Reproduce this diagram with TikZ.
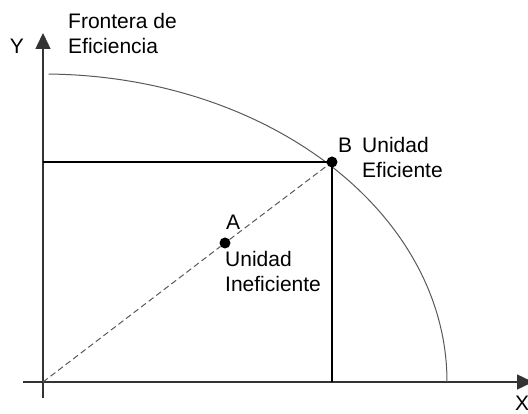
\documentclass[tikz,border=0pt]{standalone}
\usepackage{fontspec}
\setmainfont{Liberation Sans}
\usetikzlibrary{arrows.meta,positioning}

\begin{document}
\begin{tikzpicture}[
    x=1pt, y=1pt,
    axis/.style={-{Triangle[width=15pt,length=16pt]}, line width=1.4pt, draw=black!80},
    label/.style={font=\fontsize{21}{25}\selectfont, inner sep=0pt, align=left},
    dot/.style={circle, fill=black, minimum size=11pt, inner sep=0pt},
    guide/.style={line width=1.1pt, draw=black},
    frontier/.style={line width=1pt, draw=black!65}
]
    \useasboundingbox (-43,-32) rectangle (485,382);
    \coordinate (O) at (0,0);
    \coordinate (xend) at (490,0);
    \coordinate (yend) at (0,349);
    \coordinate (xstart) at (-20,0);
    \coordinate (ystart) at (0,-16);
    \coordinate (Bx) at (289,0);
    \coordinate (By) at (0,220);

    % ejes
    \draw[axis] (xstart) -- (xend);
    \draw[axis] (ystart) -- (yend);
    \node[label] (ylab) at (-26,336) {Y};
    \node[label, anchor=north west] (xlab) at (472,-14) {X};

    % frontera
    \draw[frontier] (89.2:404 and 308) arc[start angle=89.2, end angle=0, x radius=404, y radius=308];
    \node[label, anchor=north west] (front) at (25,369) {Frontera de\\Eficiencia};

    % unidades
    \node[dot] (B) at (289,220) {};
    \node[dot] (A) at (182,139) {};
    \draw[guide] (By) -- (B.center);
    \draw[guide] (B.center) -- (Bx);
    \draw[dashed, line width=1pt, draw=black!65, dash pattern=on 6pt off 3.5pt] (O) -- (A) -- (B);

    \node[label, anchor=south west] (Blab) at (295,229) {B};
    \node[label, anchor=north west] (Beff) at (319,245) {Unidad\\Eficiente};
    \node[label, anchor=south west] (Alab) at (183,152) {A};
    \node[label, anchor=north west] (Aineff) at (182,131) {Unidad\\Ineficiente};
\end{tikzpicture}
\end{document}
